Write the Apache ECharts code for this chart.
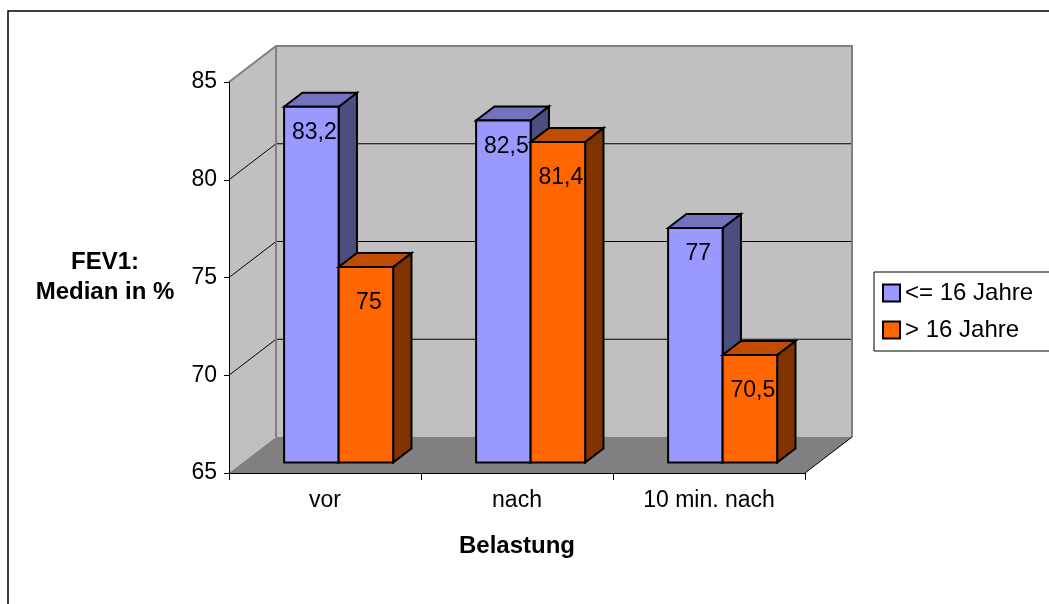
<!DOCTYPE html>
<html>
<head>
<meta charset="utf-8">
<script src="https://cdn.jsdelivr.net/npm/echarts@6/dist/echarts.min.js"></script>
<style>
  html, body { margin: 0; padding: 0; background: #fff; }
  #chart { width: 1049px; height: 604px; }
</style>
</head>
<body>
<div id="chart"></div>
<script>
// FEV1 median by load phase and age group
const categories = ['vor', 'nach', '10 min. nach'];
const seriesNames = ['<= 16 Jahre', '> 16 Jahre'];
const youngValues = [83.2, 82.5, 77];
const olderValues = [75, 81.4, 70.5];
const yMin = 65;
const yMax = 85;
const yStep = 5;

const FONT = '"Liberation Sans", Arial, sans-serif';
// 3D look: offset of the back wall relative to the front plane
const DEPTH_X = 47;
const DEPTH_Y = 36;
// bars sit between these fractions of the depth
const BAR_FRONT = 0.29;
const BAR_BACK = 0.68;
const BAR_SHARE = 0.284; // width of one bar relative to the category band

const faceColors = [
  { front: '#9999FF', top: '#7373BF', side: '#4D4D80', labelDy: 26 },
  { front: '#FF6600', top: '#BF4C00', side: '#803300', labelDy: 36 }
];

function fmt(v) { return String(v).replace('.', ','); }

function renderWalls(params, api) {
  const band = api.size([1, 0])[0];
  const x0 = api.coord([0, yMin])[0] - band / 2;
  const x1 = api.coord([categories.length - 1, yMin])[0] + band / 2;
  const yBot = api.coord([0, yMin])[1];
  const yTop = api.coord([0, yMax])[1];
  const dx = DEPTH_X, dy = DEPTH_Y;
  const children = [];
  // left side wall
  children.push({ type: 'polygon', shape: { points: [[x0, yTop], [x0 + dx, yTop - dy], [x0 + dx, yBot - dy], [x0, yBot]] },
    style: { fill: '#C0C0C0' } });
  // back wall
  children.push({ type: 'rect', shape: { x: x0 + dx, y: yTop - dy, width: x1 - x0, height: yBot - yTop },
    style: { fill: '#C0C0C0' } });
  // floor
  children.push({ type: 'polygon', shape: { points: [[x0, yBot], [x1, yBot], [x1 + dx, yBot - dy], [x0 + dx, yBot - dy]] },
    style: { fill: '#808080' } });
  // grid lines on back and side walls
  for (let v = yMin + yStep; v < yMax; v += yStep) {
    const y = api.coord([0, v])[1];
    children.push({ type: 'line', shape: { x1: x0 + dx, y1: y - dy, x2: x1 + dx, y2: y - dy },
      style: { stroke: '#000', lineWidth: 1 } });
    children.push({ type: 'line', shape: { x1: x0, y1: y, x2: x0 + dx, y2: y - dy },
      style: { stroke: '#000', lineWidth: 1 } });
  }
  // wall edges
  children.push({ type: 'polyline', shape: { points: [[x0, yTop], [x0 + dx, yTop - dy], [x1 + dx, yTop - dy], [x1 + dx, yBot - dy]] },
    style: { stroke: '#808080', lineWidth: 2, fill: null } });
  children.push({ type: 'line', shape: { x1: x0 + dx, y1: yTop - dy, x2: x0 + dx, y2: yBot - dy },
    style: { stroke: '#808080', lineWidth: 2 } });
  // right floor edge
  children.push({ type: 'line', shape: { x1: x1, y1: yBot, x2: x1 + dx, y2: yBot - dy },
    style: { stroke: '#000', lineWidth: 1 } });
  return { type: 'group', children: children };
}

function makeBarRenderer(seriesIndex) {
  const c = faceColors[seriesIndex];
  return function (params, api) {
    const i = api.value(0);
    const v = api.value(1);
    const band = api.size([1, 0])[0];
    const bw = band * BAR_SHARE;
    const topPt = api.coord([i, v]);
    const basePt = api.coord([i, yMin]);
    const left = topPt[0] + (seriesIndex === 0 ? -bw : 0);
    const right = left + bw;
    const fx = DEPTH_X * BAR_FRONT, fy = DEPTH_Y * BAR_FRONT;
    const bx = DEPTH_X * BAR_BACK, by = DEPTH_Y * BAR_BACK;
    const yT = topPt[1], yB = basePt[1];
    const stroke = { stroke: '#000', lineWidth: 2, lineJoin: 'miter' };
    return {
      type: 'group',
      children: [
        { type: 'polygon', shape: { points: [[right + fx, yT - fy], [right + bx, yT - by], [right + bx, yB - by], [right + fx, yB - fy]] },
          style: Object.assign({ fill: c.side }, stroke) },
        { type: 'polygon', shape: { points: [[left + fx, yT - fy], [right + fx, yT - fy], [right + bx, yT - by], [left + bx, yT - by]] },
          style: Object.assign({ fill: c.top }, stroke) },
        { type: 'rect', shape: { x: left + fx, y: yT - fy, width: bw, height: yB - yT },
          style: Object.assign({ fill: c.front }, stroke) },
        { type: 'text', x: (left + right) / 2 + fx + 3, y: yT - fy + c.labelDy,
          style: { text: fmt(v), fill: '#000', font: '23px ' + FONT, align: 'center', verticalAlign: 'middle' } }
      ]
    };
  };
}

const chart = echarts.init(document.getElementById('chart'), null, { renderer: 'canvas' });

chart.setOption({
  backgroundColor: '#fff',
  animation: false,
  textStyle: { fontFamily: FONT },
  grid: { left: 229, top: 82, width: 576, height: 391, containLabel: false },
  legend: {
    data: seriesNames,
    orient: 'vertical',
    left: 874,
    top: 272,
    padding: [9, 60, 9, 8],
    itemGap: 13,
    itemWidth: 17,
    itemHeight: 17,
    icon: 'rect',
    borderColor: '#000',
    borderWidth: 1,
    itemStyle: { borderColor: '#000', borderWidth: 2 },
    textStyle: { fontSize: 24, color: '#000', fontFamily: FONT },
    selectedMode: false
  },
  xAxis: {
    type: 'category',
    data: categories,
    boundaryGap: true,
    axisLine: { show: true, lineStyle: { color: '#000', width: 1 } },
    axisTick: { show: true, length: 7, lineStyle: { color: '#000' } },
    axisLabel: { fontSize: 23, color: '#000', margin: 16, fontFamily: FONT },
    splitLine: { show: false },
    name: 'Belastung',
    nameLocation: 'middle',
    nameGap: 73,
    nameTextStyle: { fontSize: 24, fontWeight: 'bold', color: '#000', verticalAlign: 'middle', fontFamily: FONT }
  },
  yAxis: {
    type: 'value',
    min: yMin,
    max: yMax,
    interval: yStep,
    axisLine: { show: true, lineStyle: { color: '#000', width: 1 } },
    axisTick: { show: true, length: 5, lineStyle: { color: '#000' } },
    axisLabel: { fontSize: 23, color: '#000', margin: 12, fontFamily: FONT },
    splitLine: { show: false },
    name: 'FEV1:\nMedian in %',
    nameLocation: 'middle',
    nameRotate: 0,
    nameGap: 124,
    nameTextStyle: { fontSize: 24, fontWeight: 'bold', color: '#000', align: 'center', verticalAlign: 'middle', lineHeight: 30, fontFamily: FONT }
  },
  graphic: [
    { type: 'rect', shape: { x: 8, y: 11, width: 1200, height: 800 },
      style: { fill: null, stroke: '#000', lineWidth: 1.5 }, silent: true }
  ],
  series: [
    {
      type: 'custom',
      z: -1,
      silent: true,
      renderItem: renderWalls,
      data: [[0, yMin]],
      encode: { x: 0, y: 1 }
    },
    {
      name: seriesNames[0],
      type: 'custom',
      z: 2,
      itemStyle: { color: faceColors[0].front },
      renderItem: makeBarRenderer(0),
      data: youngValues.map((v, i) => [i, v]),
      encode: { x: 0, y: 1 }
    },
    {
      name: seriesNames[1],
      type: 'custom',
      z: 3,
      itemStyle: { color: faceColors[1].front },
      renderItem: makeBarRenderer(1),
      data: olderValues.map((v, i) => [i, v]),
      encode: { x: 0, y: 1 }
    }
  ]
});
</script>
</body>
</html>
